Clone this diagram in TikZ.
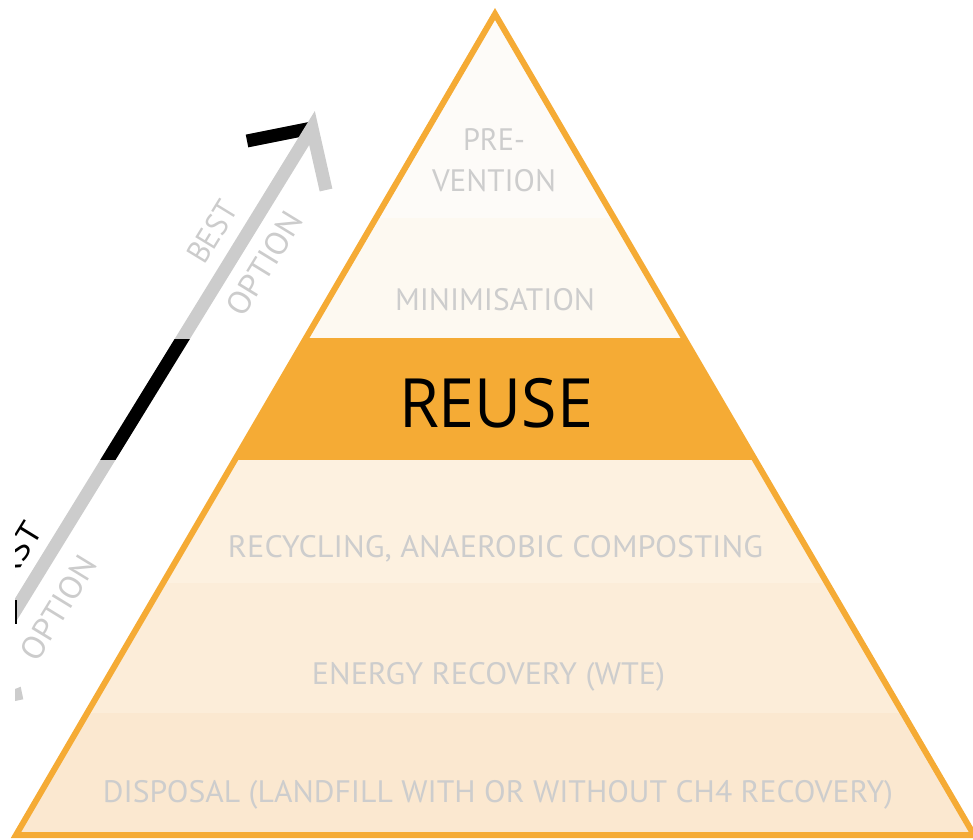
\documentclass[tikz,border=0pt]{standalone}
\usepackage{fontspec}
\setmainfont{PT Sans}
\newfontfamily\reusefont{Open Sans}
\usepackage{graphicx}
\definecolor{orng}{HTML}{F5AB35}
\definecolor{bandA}{HTML}{FDFBF8}
\definecolor{bandB}{HTML}{FDF9F1}
\definecolor{bandD}{HTML}{FDF1E0}
\definecolor{bandE}{HTML}{FCEDD9}
\definecolor{bandF}{HTML}{FBE8D0}
\definecolor{lblgray}{HTML}{CDCDCD}
\definecolor{arrowgray}{HTML}{CCCCCC}
\newcommand{\fitw}[2]{\resizebox{#1pt}{\height}{#2}}
\begin{document}
\begin{tikzpicture}[x=1pt,y=-1pt,
  lbl/.style={text=lblgray, font=\fontsize{31}{36}\selectfont, inner sep=0pt, anchor=base},
  reuselbl/.style={text=black, font=\reusefont\fontsize{68}{80}\selectfont, inner sep=0pt, anchor=base},
  arrowtxt/.style={font=\fontsize{32}{36}\selectfont, inner sep=0pt, rotate=58.5},
  shaft/.style={line width=13pt}]
\useasboundingbox (0,0) rectangle (973,839);
% pyramid
\coordinate (apex) at (495,14);
\coordinate (bl) at (16,835);
\coordinate (br) at (974,835);
\begin{scope}
  \clip (apex) -- (bl) -- (br) -- cycle;
  \fill[bandA] (0,0) rectangle (973,218);
  \fill[bandB] (0,218) rectangle (973,338);
  \fill[orng] (0,338) rectangle (973,460);
  \fill[bandD] (0,460) rectangle (973,583);
  \fill[bandE] (0,583) rectangle (973,713);
  \fill[bandF] (0,713) rectangle (973,839);
\end{scope}
\draw[orng, line width=6pt, line join=miter] (apex) -- (bl) -- (br) -- cycle;
% labels
\node[lbl] (pre) at (494,150) {\fitw{62}{PRE-}};
\node[lbl] (vention) at (494,191) {\fitw{124}{VENTION}};
\node[lbl] (mini) at (495,310) {\fitw{200}{MINIMISATION}};
\node[reuselbl] (reuse) at (496,427) {\fitw{194}{REUSE}};
\node[lbl] (recy) at (495.5,557) {\fitw{535}{RECYCLING, ANAEROBIC COMPOSTING}};
\node[lbl] (energy) at (488.5,684) {\fitw{353}{ENERGY RECOVERY (WTE)}};
\node[lbl] (disp) at (498,802) {\fitw{790}{DISPOSAL (LANDFILL WITH OR WITHOUT CH4 RECOVERY)}};
% arrow
\begin{scope}
  \clip (15,0) rectangle (973,839);
  \coordinate (tip) at (312,128);
  \coordinate (tail) at (-65,741);
  \coordinate (larm) at (247,141);
  \coordinate (rarm) at (326,190);
  \draw[black, shaft] (larm) -- (tip);
  \draw[arrowgray, shaft, line join=miter] (rarm) -- (tip) -- (tail);
  \begin{scope}
    \clip (0,339) rectangle (973,459);
    \draw[black, shaft] (tip) -- (tail);
  \end{scope}
  \fill[black] (15,600) rectangle (16.8,624);
  \fill[arrowgray] (15,689) -- (20.7,686.7) -- (23.3,699.3) -- (15,701) -- cycle;
  \node[arrowtxt, text=arrowgray] (best) at (212.5,232) {\fitw{66}{BEST}};
  \node[arrowtxt, text=arrowgray] (opt1) at (264.5,263.5) {\fitw{116}{OPTION}};
  \node[arrowtxt, text=black] (worst) at (5,573) {\fitw{112}{WORST}};
  \node[arrowtxt, text=arrowgray] (opt2) at (58.5,608) {\fitw{116}{OPTION}};
\end{scope}
\end{tikzpicture}
\end{document}
